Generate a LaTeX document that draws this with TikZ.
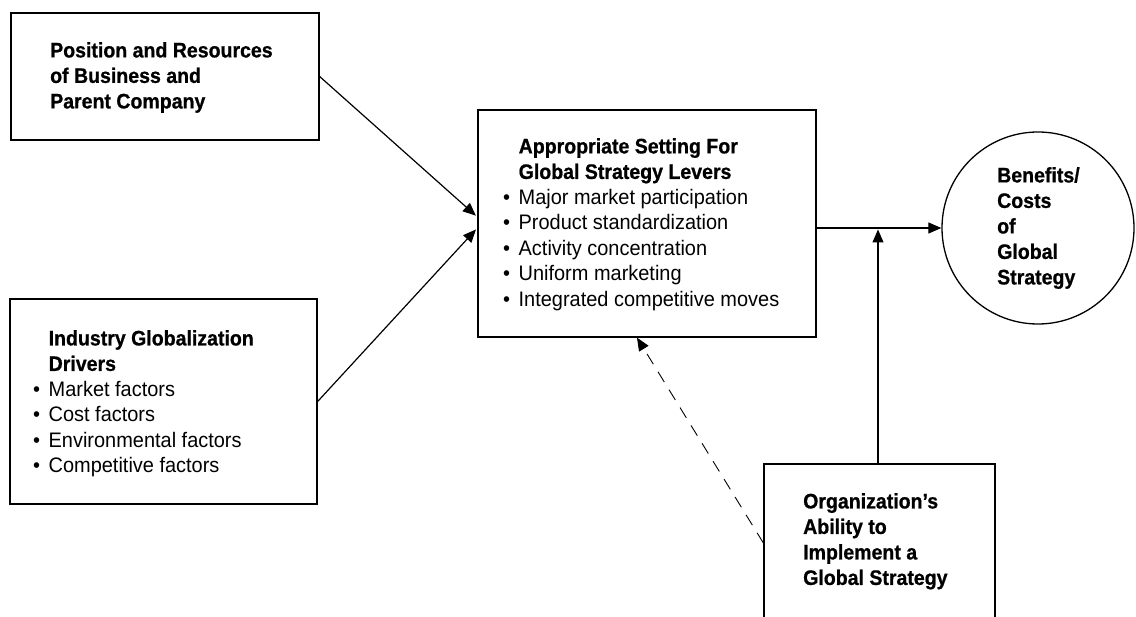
\documentclass[tikz,border=0pt]{standalone}
\usepackage{fontspec}
\setmainfont{Liberation Sans}[UprightFeatures={FakeStretch=0.95},BoldFeatures={FakeStretch=0.93,FakeBold=0.8}]
\usetikzlibrary{arrows.meta,calc}
\newcommand{\myitem}[1]{\makebox[15.5pt][l]{\textbullet}#1}
\newcommand{\myhead}[1]{\hspace*{15.5pt}\textbf{#1}}
\begin{document}
\begin{tikzpicture}[x=1pt,y=-1pt,
  box/.style={draw,line width=1.3pt,rectangle,inner sep=0pt},
  txt/.style={anchor=north west,inner sep=0pt,align=left,font=\fontsize{21}{25.5}\selectfont},
  txtb/.style={txt,font=\fontsize{21}{25.5}\selectfont\bfseries},
  arr/.style={line width=1.2pt,-{Triangle[length=13pt,width=11pt]}},
  dasharr/.style={line width=0.9pt,-{Triangle[length=13pt,width=11pt]},dash pattern=on 12pt off 9pt},
]
\useasboundingbox (0,0) rectangle (1136,617);
\clip (0,0) rectangle (1136,617);

% boxes
\node[box,minimum width=308pt,minimum height=127pt] (pos) at (165,76.5) {};
\node[box,minimum width=307pt,minimum height=205pt] (drv) at (163.5,401.5) {};
\node[box,minimum width=338pt,minimum height=227pt] (lev) at (647,223.5) {};
\node[box,minimum width=231pt,minimum height=200pt] (org) at (879.5,564) {};
\node[draw,circle,line width=1.3pt,minimum size=192pt,inner sep=0pt] (ben) at (1038,228) {};

% texts
\node[txtb] (posT) at (50,42) {Position and Resources\\of Business and\\Parent Company};
\node[txt] (drvT) at (33,330) {\myhead{Industry Globalization}\\\myhead{Drivers}\\
  \myitem{Market factors}\\\myitem{Cost factors}\\\myitem{Environmental factors}\\\myitem{Competitive factors}};
\node[txt] (levT) at (503,138) {\myhead{Appropriate Setting For}\\\myhead{Global Strategy Levers}\\
  \myitem{Major market participation}\\\myitem{Product standardization}\\\myitem{Activity concentration}\\\myitem{Uniform marketing}\\\myitem{Integrated competitive moves}};
\node[txtb] (orgT) at (803,493) {Organization's\\Ability to\\Implement a\\Global Strategy};
\node[txtb] (benT) at (997,167) {Benefits/\\Costs\\of\\Global\\Strategy};

% connectors
\draw[arr,shorten >=2pt] (pos.east) -- ([yshift=6.5pt]lev.west);
\draw[arr,shorten >=2pt] (drv.east) -- ([yshift=-4.5pt]lev.west);
\coordinate (jn) at ([yshift=-4.5pt]lev.east);
\draw[arr] (jn) -- (ben.west);
\draw[arr,shorten >=1.5pt] ([xshift=-1.5pt]org.north) -- ([xshift=-1.5pt]org.north |- ben.west);
\draw[dasharr] ([yshift=21pt]org.west) -- ([xshift=-10pt]lev.south);
\end{tikzpicture}
\end{document}
